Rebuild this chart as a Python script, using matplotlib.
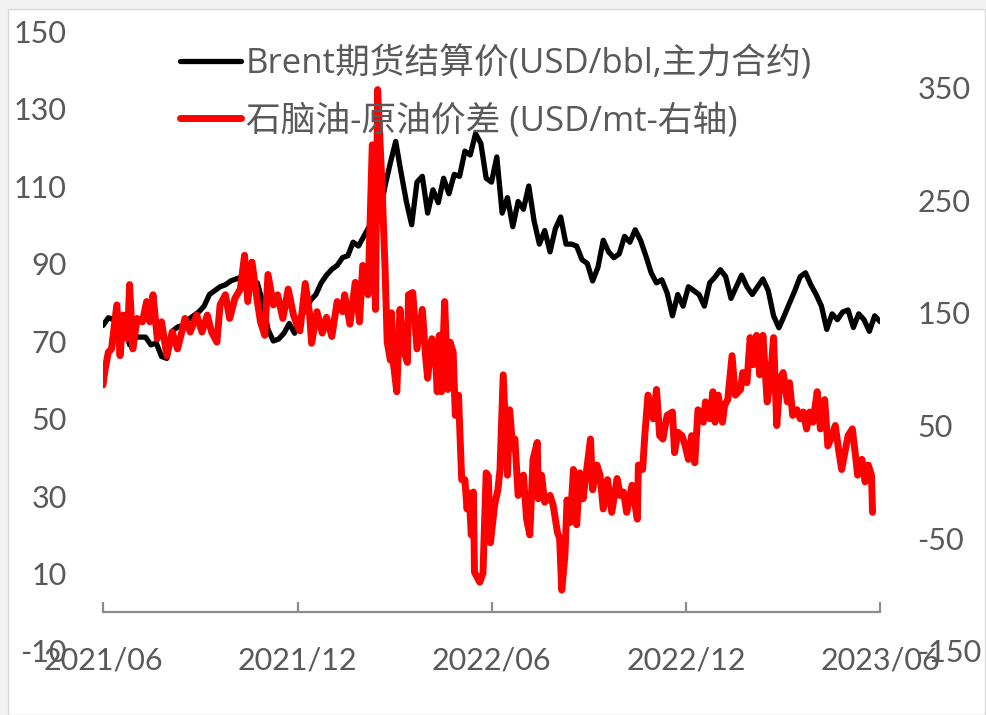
import matplotlib.pyplot as plt
import matplotlib.dates as mdates
from matplotlib.patches import Rectangle
import pandas as pd

START = pd.Timestamp('2021-06-01')
END = pd.Timestamp('2023-06-01')

# Brent settlement, read every 5 days from the picture (USD/bbl, left axis)
brent_days = list(range(0, 731, 5))
brent = [74, 76, 75.5, 75, 74, 69, 71, 71, 71, 69,
         69.5, 66, 65.5, 72.5, 73.6, 74, 75.5, 76.5, 77.5, 79,
         82, 83, 84, 84.5, 85.5, 86, 86.5, 85, 84, 85,
         80, 73, 70, 70.5, 72, 74.5, 72, 76, 78, 80.5,
         82, 85, 87, 88.5, 89.5, 91.5, 92, 95.5, 94.5, 97,
         99.5, 101, 103, 110, 116, 121.5, 113.5, 106, 100, 111,
         112.5, 103, 109, 105.7, 112, 108, 113, 112.5, 119, 118,
         123.5, 121, 112, 111, 117.5, 103, 107, 99.5, 106, 104,
         110, 101, 95, 98.5, 93, 99, 102, 95, 95, 94.5,
         91, 90, 85.5, 89, 96, 93, 91.5, 92.5, 97, 95.5,
         98.7, 96, 92, 87.6, 85, 85.8, 82.4, 76.5, 82, 79,
         84, 83, 82, 79, 85, 86.5, 88.4, 86.6, 81, 84,
         87, 84, 82, 84, 86, 83, 76.5, 73.4, 76.5, 79.8,
         83, 86.6, 87.6, 84.5, 82, 79, 73, 77, 75.5, 77.5,
         78, 73.5, 77, 75.5, 72.5, 76.5, 75]

# naphtha - crude spread (USD/mt, right axis), days after 2021-06-01
spread_days = [0, 2, 5, 8, 13, 16, 19, 23, 25, 28, 32, 37, 41, 44, 47, 51, 55,
               60, 65, 70, 74, 77, 82, 88, 93, 98, 102, 107, 110, 115, 119,
               124, 129, 133, 136, 140, 145, 148, 152, 155, 160, 164, 169,
               174, 179, 182, 185, 190, 194, 196, 201, 206, 210, 215, 220,
               225, 227, 232, 237, 241, 244, 249, 253, 256, 258, 262, 265,
               267, 270, 271, 273, 276, 279, 282, 286, 287, 291, 295, 300,
               303, 305, 309, 312, 314, 316, 318, 321, 324, 326, 329, 331,
               334, 337, 340, 342, 344, 346, 348, 349, 354, 357, 360, 362,
               364, 368, 371, 373, 376, 380, 382, 385, 387, 390, 395, 398,
               401, 404, 408, 409, 412, 415, 420, 423, 427, 429, 431, 434,
               436, 439, 442, 445, 448, 451, 455, 458, 460, 464, 467, 470,
               474, 478, 483, 486, 489, 492, 497, 502, 503, 507, 509, 512,
               517, 520, 523, 526, 530, 535, 537, 540, 544, 547, 550, 553,
               556, 559, 564, 566, 570, 573, 575, 578, 582, 584, 587, 591,
               594, 599, 601, 605, 608, 611, 614, 617, 620, 624, 627, 630,
               633, 636, 639, 643, 645, 648, 652, 655, 658, 661, 664, 667,
               671, 674, 678, 681, 685, 688, 691, 694, 697, 700, 704, 707,
               709, 713, 716, 719, 722, 723]
spread = [86, 100, 115, 118, 157, 112, 148, 127, 175, 118, 145, 142, 160,
          142, 166, 127, 142, 112, 133, 118, 133, 145, 133, 148, 133, 148,
          133, 124, 157, 166, 145, 163, 171, 201, 160, 195, 160, 142, 130,
          184, 157, 166, 145, 171, 148, 140, 134, 176, 150, 123, 151, 132,
          146, 129, 160, 151, 166, 140, 177, 142, 192, 166, 299, 153, 348,
          266, 189, 124, 108, 150, 104, 80, 153, 118, 106, 166, 168, 118,
          153, 112, 92, 127, 118, 80, 130, 80, 160, 82, 124, 115, 59, 77,
          2, 2, -24, -10, -47, -9, -80, -89, -81, 8, 5, -54, -20, -7, 11,
          95, 6, 64, 30, 38, -12, 6, -33, -47, 20, 35, -15, 6, -18, -12,
          -21, -45, -50, -96, -65, -16, -36, 11, -38, 8, -15, 15, 38, -7,
          15, 6, -24, 2, -27, 3, -12, -9, -27, -3, -33, 15, 11, 41, 77,
          56, 82, 41, 38, 59, 62, 26, 44, 41, 32, 20, 41, 17, 64, 53, 71,
          56, 80, 53, 77, 53, 68, 73, 112, 77, 82, 97, 88, 128, 104, 130,
          95, 130, 71, 91, 128, 50, 91, 97, 71, 88, 59, 64, 56, 62, 47, 62,
          53, 80, 47, 73, 32, 41, 50, 29, 11, 26, 41, 47, 23, 6, 20, 0, 15,
          6, -27]

brent_label = 'Brent期货结算价(USD/bbl,主力合约)'
spread_label = '石脑油-原油价差 (USD/mt-右轴)'
x_ticks = ['2021-06-01', '2021-12-01', '2022-06-01', '2022-12-01', '2023-06-01']
left_ticks = list(range(-10, 151, 20))
right_ticks = list(range(-150, 351, 100))

GREY = '#595959'
AXIS = '#8c8c8c'

plt.rcParams['font.family'] = ['Lato', 'Noto Sans CJK SC', 'DejaVu Sans']
plt.rcParams['axes.unicode_minus'] = False

W, H = 986, 715
fig = plt.figure(figsize=(W / 100, H / 100), dpi=100, facecolor='#f2f2f2')
fig.add_artist(Rectangle((8 / W, 0), (W - 9) / W, (H - 9) / H,
                         transform=fig.transFigure, facecolor='white',
                         edgecolor='#d9d9d9', lw=1, zorder=0))
ax = fig.add_axes([103 / W, 64 / H, 777 / W, 620 / H])
ax.patch.set_alpha(0)
ax2 = ax.twinx()

d_brent = START + pd.to_timedelta(brent_days, unit='D')
d_spread = START + pd.to_timedelta(spread_days, unit='D')
l1, = ax.plot(d_brent, brent, color='black', lw=3.8,
              solid_joinstyle='round', solid_capstyle='round')
l2, = ax2.plot(d_spread, spread, color='#ff0000', lw=5.0,
               solid_joinstyle='round', solid_capstyle='round')

ax.set_xlim(START, END)
ax.set_ylim(-10, 150)
ax2.set_ylim(-150, 400)
ax.set_yticks(left_ticks)
ax2.set_yticks(right_ticks)
ax.set_xticks(pd.to_datetime(x_ticks))
ax.xaxis.set_major_formatter(mdates.DateFormatter('%Y/%m'))

for a in (ax, ax2):
    for s in a.spines.values():
        s.set_visible(False)
ax.spines['bottom'].set_visible(True)
ax.spines['bottom'].set_position(('data', 0))
ax.spines['bottom'].set_color(AXIS)
ax.spines['bottom'].set_linewidth(1.6)

ax.tick_params(axis='x', direction='in', length=7, width=1.6, color=AXIS,
               pad=25, labelsize=22, labelcolor=GREY)
ax.tick_params(axis='y', length=0, pad=26, labelsize=22, labelcolor=GREY)
ax2.tick_params(axis='y', length=0, pad=27, labelsize=22, labelcolor=GREY)

fig.legend([l1, l2], [brent_label, spread_label], loc='upper left',
           bbox_to_anchor=(180 / W, 1 - 46 / H), frameon=False,
           prop={'family': ['Open Sans', 'Noto Sans CJK SC'], 'size': 25},
           labelcolor=GREY, handlelength=1.75, handletextpad=0.15,
           labelspacing=0.64, borderpad=0, borderaxespad=0)

fig.savefig('out.png', dpi=100, facecolor=fig.get_facecolor())
